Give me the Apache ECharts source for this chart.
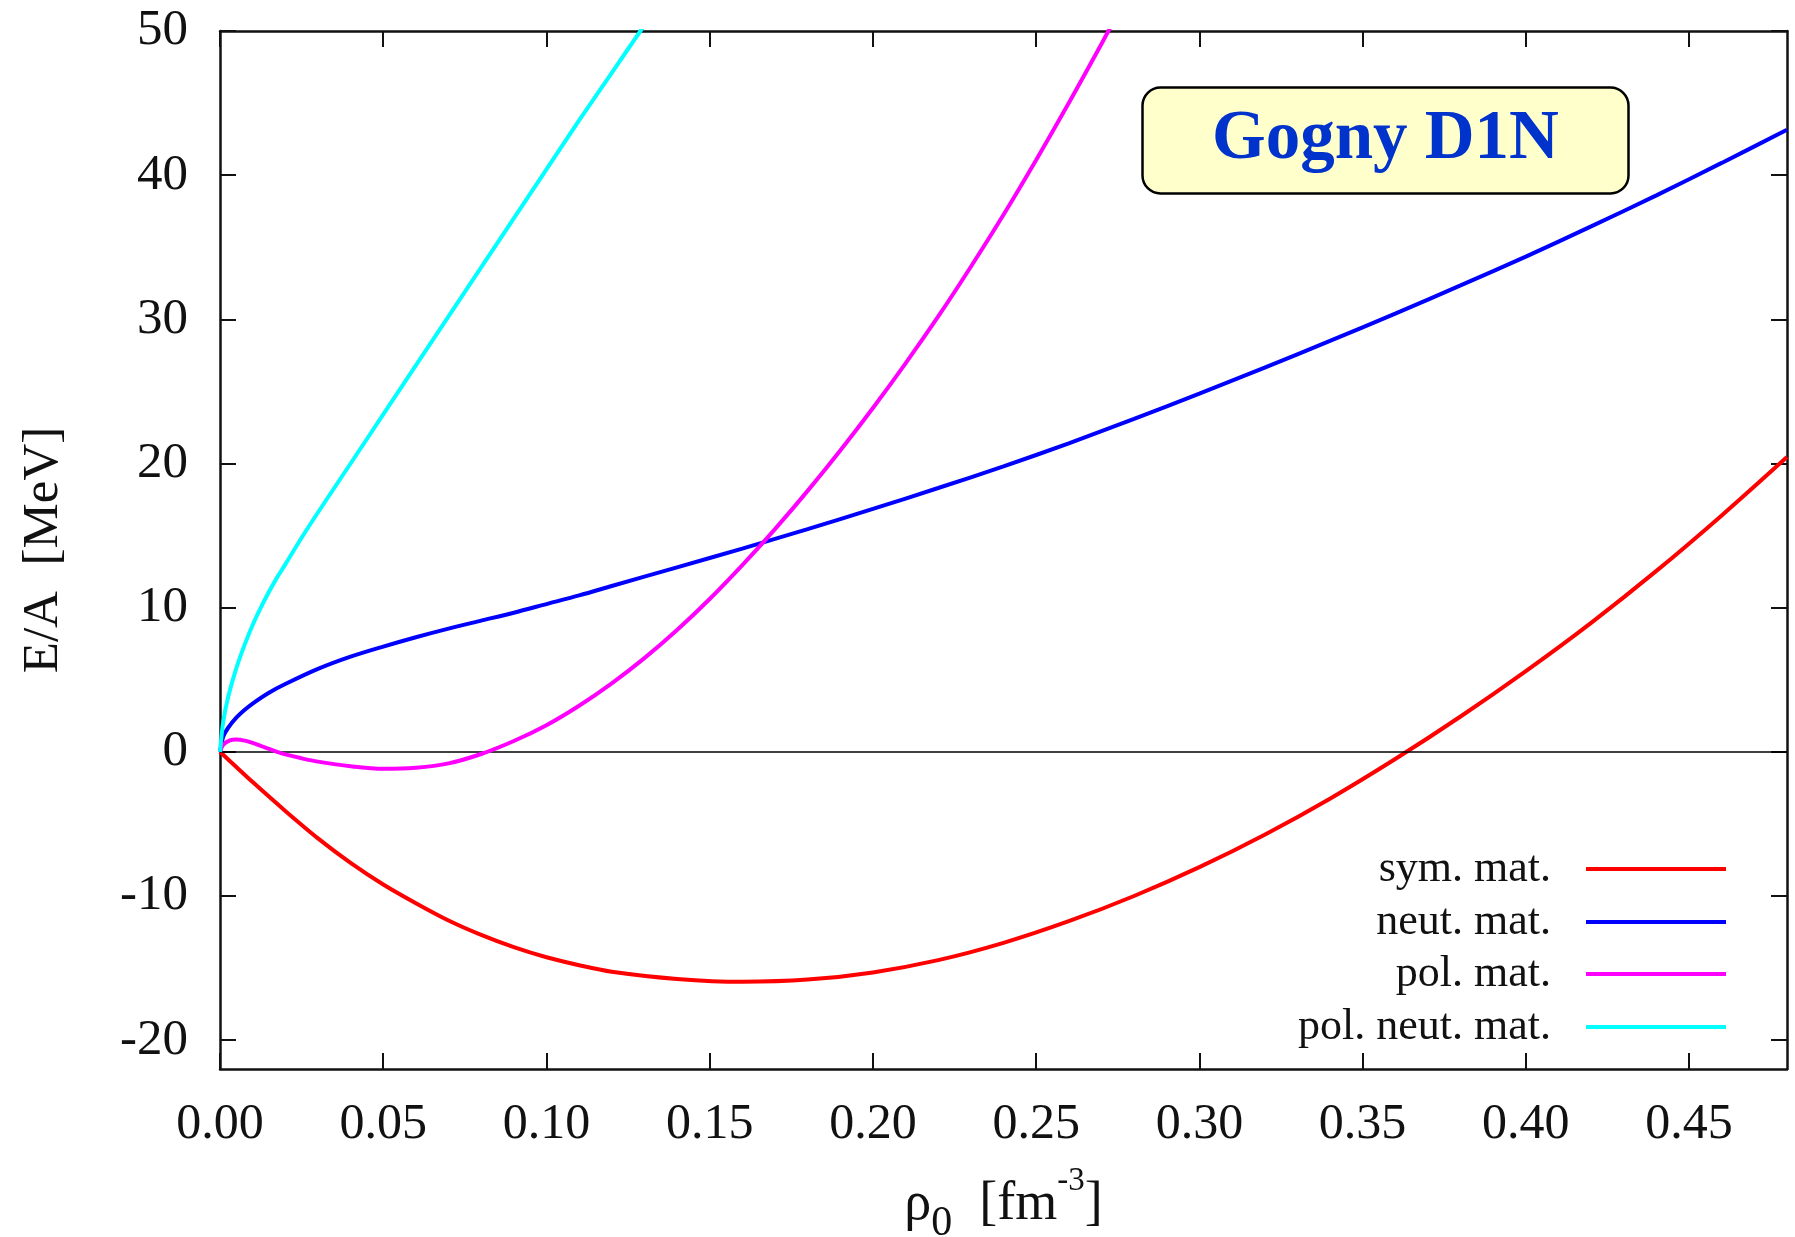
<!DOCTYPE html>
<html><head><meta charset="utf-8">
<script src="https://cdn.jsdelivr.net/npm/echarts@6/dist/echarts.min.js"></script>
<style>html,body{margin:0;padding:0;background:#fff}#c{width:1795px;height:1237px}</style>
</head><body><div id="c"></div>
<script>
const xTicks = [0, 0.05, 0.10, 0.15, 0.20, 0.25, 0.30, 0.35, 0.40, 0.45];
const yTicks = [-20, -10, 0, 10, 20, 30, 40, 50];
const seriesNames = ['sym. mat.', 'neut. mat.', 'pol. mat.', 'pol. neut. mat.'];
const seriesColors = ['#ff0000', '#0000ff', '#ff00ff', '#00ffff'];

const symRho = [0, 0.005, 0.01, 0.02, 0.03, 0.04, 0.05, 0.06, 0.07, 0.08, 0.09, 0.10, 0.11, 0.12, 0.14, 0.16, 0.18, 0.20, 0.22, 0.24, 0.26, 0.28, 0.30, 0.32, 0.34, 0.36, 0.38, 0.40, 0.42, 0.44, 0.46, 0.48];
const symE   = [0, -1.05, -2.1, -4.1, -6.0, -7.7, -9.2, -10.5, -11.7, -12.7, -13.55, -14.25, -14.8, -15.25, -15.75, -15.95, -15.8, -15.3, -14.45, -13.25, -11.75, -10.0, -8.0, -5.75, -3.25, -0.5, 2.45, 5.6, 8.95, 12.55, 16.4, 20.45];

const neutRho = [0, 0.001, 0.0025, 0.005, 0.0075, 0.01, 0.015, 0.02, 0.03, 0.04, 0.05, 0.06, 0.07, 0.08, 0.09, 0.10, 0.11, 0.12, 0.14, 0.16, 0.18, 0.20, 0.22, 0.24, 0.26, 0.28, 0.30, 0.32, 0.34, 0.36, 0.38, 0.40, 0.42, 0.44, 0.46, 0.48];
const neutE   = [0, 1.06, 1.67, 2.37, 2.9, 3.35, 4.1, 4.7, 5.75, 6.6, 7.3, 7.95, 8.55, 9.1, 9.65, 10.25, 10.85, 11.5, 12.8, 14.1, 15.45, 16.85, 18.3, 19.8, 21.4, 23.1, 24.85, 26.65, 28.5, 30.4, 32.35, 34.35, 36.45, 38.6, 40.85, 43.15];

const polRho = [0, 0.001, 0.003, 0.005, 0.0075, 0.01, 0.0125, 0.015, 0.0175, 0.02, 0.025, 0.03, 0.04, 0.05, 0.06, 0.07, 0.08, 0.09, 0.10, 0.11, 0.12, 0.13, 0.14, 0.15, 0.16, 0.17, 0.18, 0.19, 0.20, 0.21, 0.22, 0.23, 0.24, 0.25, 0.26, 0.27, 0.28];
const polE   = [0, 0.5, 0.8, 0.85, 0.78, 0.62, 0.42, 0.2, 0.0, -0.18, -0.45, -0.68, -1.0, -1.18, -1.1, -0.8, -0.15, 0.75, 1.85, 3.2, 4.75, 6.5, 8.45, 10.6, 12.95, 15.45, 18.1, 20.9, 23.85, 26.95, 30.2, 33.65, 37.25, 41.05, 45.0, 49.1, 53.35];

const polNeutRho = [0, 0.001, 0.0025, 0.005, 0.0075, 0.01, 0.0125, 0.015, 0.0175, 0.02, 0.025, 0.03, 0.04, 0.05, 0.06, 0.07, 0.08, 0.09, 0.10, 0.11, 0.12, 0.13, 0.135];
const polNeutE   = [0, 2.1, 3.8, 5.8, 7.4, 8.8, 10.0, 11.1, 12.1, 13.0, 14.85, 16.6, 20.0, 23.4, 26.8, 30.2, 33.6, 37.0, 40.4, 43.8, 47.1, 50.4, 52.0];

const legendRowsY = [869, 922, 974, 1027];

const zip = (xs, ys) => xs.map((x, i) => [x, ys[i]]);
const FF = "'Liberation Serif', 'Times New Roman', serif";
const AX = '#111';

const chart = echarts.init(document.getElementById('c'), null, {renderer: 'canvas'});

const lineAxisCommon = {
  axisLine: {show: true, onZero: false, lineStyle: {color: AX, width: 2.5}},
  splitLine: {show: false}
};

const dataSets = [zip(symRho, symE), zip(neutRho, neutE), zip(polRho, polE), zip(polNeutRho, polNeutE)];

const series = dataSets.map((d, i) => ({
  name: seriesNames[i],
  type: 'line',
  data: d,
  showSymbol: false,
  symbol: 'none',
  smooth: 0.3,
  clip: true,
  lineStyle: {color: seriesColors[i], width: 4},
  itemStyle: {color: seriesColors[i]},
  z: 3 + i,
  markLine: i === 0 ? {
    silent: true, symbol: ['none', 'none'], label: {show: false},
    lineStyle: {color: '#000', width: 1.5, type: 'solid'},
    data: [{yAxis: 0}], animation: false
  } : undefined
}));

const option = {
  animation: false,
  backgroundColor: '#fff',
  grid: {left: 220, top: 31, width: 1567, height: 1038, containLabel: false, outerBoundsMode: 'none'},
  title: {
    text: 'Gogny D1N', left: 1142, top: 87, padding: [19, 70],
    backgroundColor: '#ffffcc', borderColor: '#000', borderWidth: 2.5, borderRadius: 18,
    textStyle: {fontFamily: FF, fontSize: 69, fontWeight: 'bold', color: '#0033cc', lineHeight: 69}
  },
  legend: seriesNames.map((n, i) => ({
    data: [n], orient: 'vertical', right: 69, top: legendRowsY[i] - 22,
    align: 'right', icon: 'rect', itemWidth: 140, itemHeight: 4, padding: 0, selectedMode: false,
    textStyle: {fontFamily: FF, fontSize: 44, color: AX, padding: [0, 30, 0, 0]}
  })),
  xAxis: [
    Object.assign({}, lineAxisCommon, {
      type: 'value', min: 0, max: 0.48, position: 'bottom',
      axisTick: {show: true, inside: true, length: 16, lineStyle: {color: AX, width: 2}, customValues: xTicks},
      axisLabel: {customValues: xTicks, formatter: v => v.toFixed(2), margin: 31, fontSize: 50, fontFamily: FF, color: AX},
      name: '{a|ρ}{sub|0}{a|  [fm}{sup|-3}{a|]}', nameLocation: 'middle', nameGap: 96,
      nameTextStyle: {
        rich: {
          a: {fontFamily: FF, fontSize: 54, color: AX, lineHeight: 80},
          sub: {fontFamily: FF, fontSize: 42, color: AX, lineHeight: 54, verticalAlign: 'bottom'},
          sup: {fontFamily: FF, fontSize: 33, color: AX, lineHeight: 30, verticalAlign: 'top'}
        }
      }
    }),
    Object.assign({}, lineAxisCommon, {
      type: 'value', min: 0, max: 0.48, position: 'top',
      axisTick: {show: true, inside: true, length: 16, lineStyle: {color: AX, width: 2}, customValues: xTicks},
      axisLabel: {show: false}
    })
  ],
  yAxis: [
    Object.assign({}, lineAxisCommon, {
      type: 'value', min: -22, max: 50, position: 'left',
      axisTick: {show: true, inside: true, length: 16, lineStyle: {color: AX, width: 2}, customValues: yTicks},
      axisLabel: {customValues: yTicks, margin: 32, fontSize: 51, fontFamily: FF, color: AX},
      name: 'E/A  [MeV]', nameLocation: 'middle', nameGap: 151, nameRotate: 90,
      nameTextStyle: {fontFamily: FF, fontSize: 51, color: AX}
    }),
    Object.assign({}, lineAxisCommon, {
      type: 'value', min: -22, max: 50, position: 'right',
      axisTick: {show: true, inside: true, length: 16, lineStyle: {color: AX, width: 2}, customValues: yTicks},
      axisLabel: {show: false}
    })
  ],
  series: series
};
chart.setOption(option);
</script>
</body></html>
